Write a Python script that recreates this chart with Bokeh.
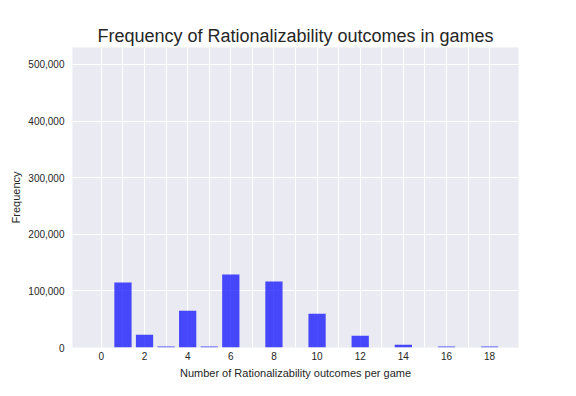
from bokeh.plotting import figure
from bokeh.models import ColumnDataSource, FixedTicker, NumeralTickFormatter, Range1d
from bokeh.embed import file_html
from bokeh.resources import INLINE

outcomes = list(range(0, 19))
frequency = [0, 114800, 22500, 1800, 65100, 1800, 129000, 0, 116600, 0,
             59800, 0, 20700, 0, 4700, 0, 1800, 0, 1800]
x_tick_labels = [0, 2, 4, 6, 8, 10, 12, 14, 16, 18]
y_ticks = [0, 100000, 200000, 300000, 400000, 500000]

FONT = "Liberation Sans"
TXT = "#262626"

src = ColumnDataSource(dict(x=outcomes, y=frequency))

p = figure(width=576, height=396, output_backend="svg", toolbar_location=None,
           x_range=Range1d(-1.34, 19.34), y_range=Range1d(0, 530000),
           min_border_left=72, min_border_right=58, min_border_top=47, min_border_bottom=49)

p.vbar(x="x", top="y", width=0.8, source=src, fill_color="blue", fill_alpha=0.7,
       line_color=None)

p.title.text = "Frequency of Rationalizability outcomes in games"
p.title.text_font = FONT
p.title.text_font_size = "18px"
p.title.text_font_style = "normal"
p.title.text_color = TXT
p.title.align = "center"
p.title.offset = 0
p.title.standoff = 4

p.background_fill_color = "#EAEAF2"
p.border_fill_color = "white"
p.outline_line_color = None

p.xaxis.ticker = FixedTicker(ticks=x_tick_labels)
p.yaxis.ticker = FixedTicker(ticks=y_ticks)
p.yaxis.formatter = NumeralTickFormatter(format="0,0")
p.xgrid.ticker = FixedTicker(ticks=outcomes)
p.ygrid.ticker = FixedTicker(ticks=y_ticks)

for g in (p.xgrid, p.ygrid):
    g.grid_line_color = "white"
    g.grid_line_width = 1

for ax in (p.xaxis, p.yaxis):
    ax.axis_line_color = None
    ax.major_tick_line_color = None
    ax.minor_tick_line_color = None
    ax.major_tick_out = 0
    ax.major_tick_in = 0
    ax.minor_tick_out = 0
    ax.minor_tick_in = 0
    ax.major_label_text_font = FONT
    ax.major_label_text_font_size = "10px"
    ax.major_label_text_color = TXT
    ax.axis_label_text_font = FONT
    ax.axis_label_text_font_size = "11px"
    ax.axis_label_text_font_style = "normal"
    ax.axis_label_text_color = TXT

p.xaxis.axis_label = "Number of Rationalizability outcomes per game"
p.yaxis.axis_label = "Frequency"
p.xaxis.major_label_standoff = 4
p.yaxis.major_label_standoff = 8
p.xaxis.axis_label_standoff = 4
p.yaxis.axis_label_standoff = 3

open("out.html", "w").write(file_html(p, INLINE))
